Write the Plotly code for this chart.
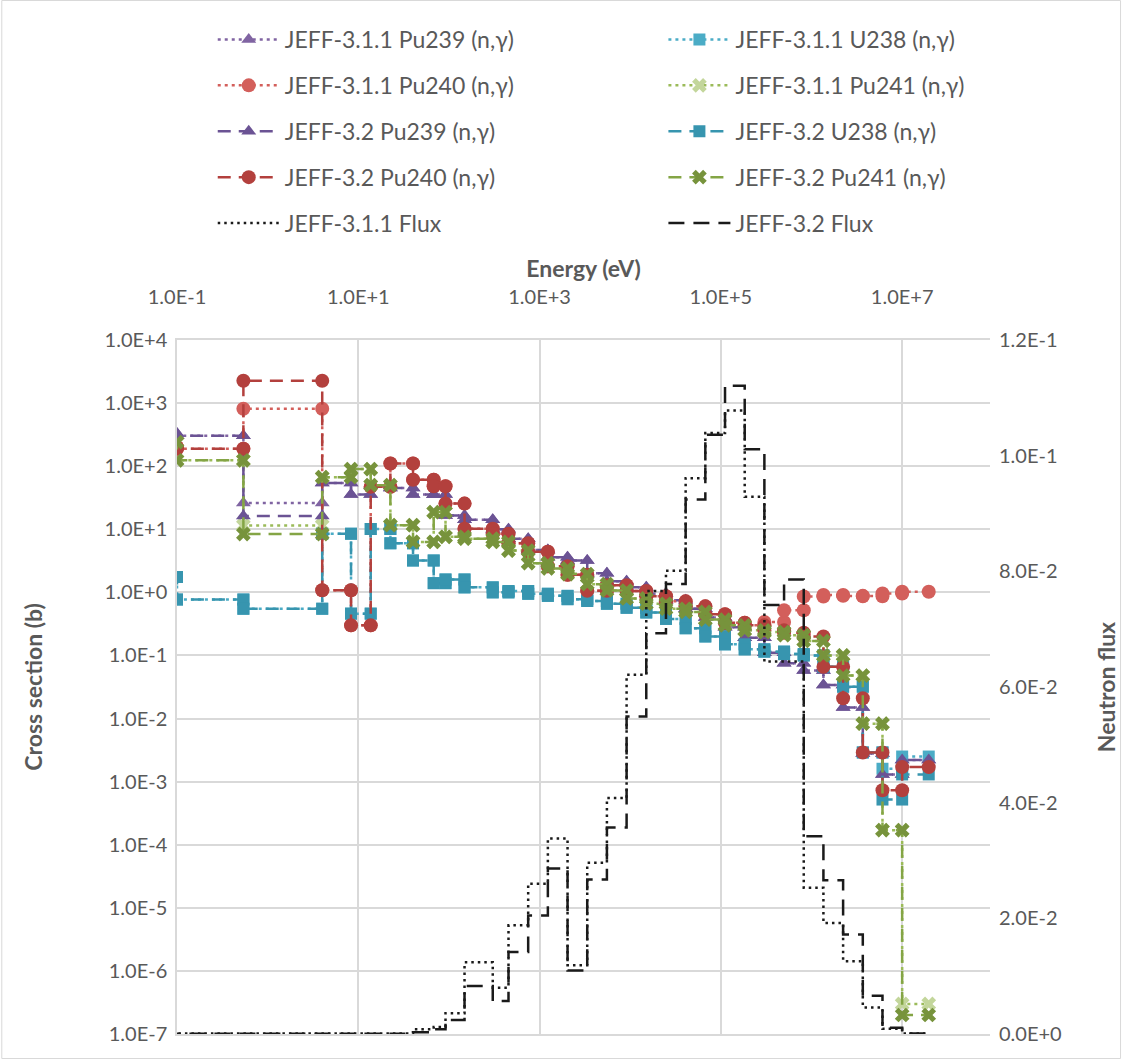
import plotly.graph_objects as go

# ECCO-33 group boundaries (eV), ascending
energy_bounds = [1e-5, 0.1, 0.54, 4.0, 8.315, 13.71, 22.6, 40.17, 67.9, 91.66, 148.6,
                 304.3, 454.0, 748.5, 1234.0, 2035.0, 3355.0, 5531.0, 9119.0, 15030.0,
                 24790.0, 40870.0, 67380.0, 111100.0, 183200.0, 302000.0, 497900.0,
                 820900.0, 1353000.0, 2231000.0, 3679000.0, 6065000.0, 1.0e7, 1.964e7]

# group-wise capture cross sections (b), group 0 = lowest energy
pu239_jeff311 = [330, 305, 26, 54, 35.7, 50, 45, 35.7, 35.7, 16.6, 14.2, 10, 7.1, 4.7, 3.6, 3.2,
                 2.0, 1.5, 1.2, 0.95, 0.75, 0.55, 0.4, 0.28, 0.19, 0.11, 0.075, 0.058, 0.034,
                 0.015, 0.0028, 0.0013, 0.0022]
pu239_jeff32 = [330, 305, 16.2, 54, 35.7, 50, 45, 35.7, 35.7, 16.6, 14.2, 10, 7.1, 4.7, 3.6, 3.2,
                2.0, 1.5, 1.2, 0.95, 0.75, 0.55, 0.4, 0.28, 0.19, 0.11, 0.075, 0.058, 0.034,
                0.015, 0.0028, 0.0013, 0.0022]
u238_jeff311 = [1.75, 0.77, 0.55, 8.5, 0.46, 10.1, 6.0, 3.2, 1.4, 1.6, 1.2, 1.0, 1.05, 0.95, 0.88,
                0.78, 0.73, 0.66, 0.57, 0.48, 0.38, 0.27, 0.2, 0.15, 0.125, 0.115, 0.105, 0.1,
                0.066, 0.032, 0.0029, 0.0016, 0.0025]
u238_jeff32 = [1.75, 0.77, 0.55, 8.5, 0.46, 10.1, 6.0, 3.2, 1.4, 1.6, 1.2, 1.0, 1.05, 0.95, 0.88,
               0.78, 0.73, 0.66, 0.57, 0.48, 0.38, 0.27, 0.2, 0.15, 0.125, 0.115, 0.105, 0.1,
               0.066, 0.032, 0.0029, 0.00052, 0.0013]
pu240_jeff311 = [200, 189, 815, 1.08, 0.30, 47, 110, 61, 48, 25.5, 10.2, 8.5, 6.0, 4.4, 2.6, 1.9,
                 1.06, 1.3, 1.05, 0.87, 0.72, 0.6, 0.45, 0.33, 0.30, 0.34, 0.52, 0.86, 0.91, 0.88,
                 0.87, 0.96, 1.02]
pu240_jeff32 = [200, 189, 2260, 1.08, 0.30, 47, 110, 61, 48, 25.5, 10.2, 8.5, 6.0, 4.4, 2.6, 1.9,
                1.06, 1.3, 1.05, 0.87, 0.72, 0.6, 0.45, 0.33, 0.30, 0.25, 0.23, 0.2, 0.066, 0.021,
                0.0029, 0.00073, 0.0017]
pu241_jeff311 = [240, 124, 11.5, 67, 90, 50, 11.6, 6.3, 18.7, 7.6, 7.1, 6.3, 4.6, 2.9, 2.4, 1.95,
                 1.35, 1.07, 0.8, 0.66, 0.55, 0.49, 0.37, 0.30, 0.25, 0.235, 0.21, 0.17, 0.10,
                 0.048, 0.0083, 0.00017, 3.0e-7]
pu241_jeff32 = [240, 124, 8.4, 67, 90, 50, 11.6, 6.3, 18.7, 7.6, 7.1, 6.3, 4.6, 2.9, 2.4, 1.95,
                1.35, 1.07, 0.8, 0.66, 0.55, 0.49, 0.37, 0.30, 0.25, 0.235, 0.21, 0.17, 0.10,
                0.048, 0.0083, 0.00017, 2.0e-7]

# group-wise neutron flux (right axis)
flux_jeff311 = [0.00003, 0.00003, 0.00003, 0.00003, 0.00003, 0.00003, 0.0001, 0.0008, 0.0012,
                0.0036, 0.0124, 0.0080, 0.0188, 0.0260, 0.0338, 0.0119, 0.0296, 0.0408, 0.0621,
                0.0766, 0.0801, 0.0961, 0.1039, 0.1078, 0.0929, 0.0644, 0.0644, 0.0253, 0.0192,
                0.0126, 0.0046, 0.0009, 0.0001]
flux_jeff32 = [0.00003, 0.00003, 0.00003, 0.00003, 0.00003, 0.00003, 0.00005, 0.0003, 0.0008,
               0.0024, 0.0083, 0.0057, 0.0142, 0.0205, 0.0286, 0.0110, 0.0267, 0.0357, 0.0549,
               0.0693, 0.0778, 0.0924, 0.1036, 0.1121, 0.1011, 0.0742, 0.0786, 0.0342, 0.0266,
               0.0172, 0.0066, 0.0011, 0.0001]

x_tick_vals = [0.1, 10, 1e3, 1e5, 1e7]
x_tick_text = ["1.0E-1", "1.0E+1", "1.0E+3", "1.0E+5", "1.0E+7"]
y_tick_vals = [1e-7, 1e-6, 1e-5, 1e-4, 1e-3, 1e-2, 1e-1, 1, 10, 100, 1e3, 1e4]
y_tick_text = ["1.0E-7", "1.0E-6", "1.0E-5", "1.0E-4", "1.0E-3", "1.0E-2", "1.0E-1",
               "1.0E+0", "1.0E+1", "1.0E+2", "1.0E+3", "1.0E+4"]
y2_tick_vals = [0, 0.02, 0.04, 0.06, 0.08, 0.10, 0.12]
y2_tick_text = ["0.0E+0", "2.0E-2", "4.0E-2", "6.0E-2", "8.0E-2", "1.0E-1", "1.2E-1"]


def steps(values):
    xs, ys = [], []
    for i, v in enumerate(values):
        xs += [energy_bounds[i], energy_bounds[i + 1]]
        ys += [v, v]
    return xs, ys


FONT = "Lato, 'Liberation Sans', Arial, sans-serif"
GREY = "#595959"
DOT = "3px,4px"
DASH = "13px,8px"

series = [
    # name, values, line color, marker color, symbol, size, dash, legend
    ("JEFF-3.1.1 Pu239 (n,γ)", pu239_jeff311, "#8064A2", "#8064A2", "triangle-up", 13, DOT, "legend"),
    ("JEFF-3.1.1 U238 (n,γ)", u238_jeff311, "#4BACC6", "#4BACC6", "square", 12, DOT, "legend2"),
    ("JEFF-3.1.1 Pu240 (n,γ)", pu240_jeff311, "#D35F5B", "#D35F5B", "circle", 14, DOT, "legend"),
    ("JEFF-3.1.1 Pu241 (n,γ)", pu241_jeff311, "#9BBB59", "#C3D69B", "x", 13, DOT, "legend2"),
    ("JEFF-3.2 Pu239 (n,γ)", pu239_jeff32, "#6B5394", "#6B5394", "triangle-up", 13, DASH, "legend"),
    ("JEFF-3.2 U238 (n,γ)", u238_jeff32, "#3795AF", "#3795AF", "square", 12, DASH, "legend2"),
    ("JEFF-3.2 Pu240 (n,γ)", pu240_jeff32, "#B3403D", "#B3403D", "circle", 14, DASH, "legend"),
    ("JEFF-3.2 Pu241 (n,γ)", pu241_jeff32, "#84A545", "#77933C", "x", 13, DASH, "legend2"),
]

fig = go.Figure()
for name, vals, lc, mc, sym, size, dash, leg in series:
    xs, ys = steps(vals)
    fig.add_trace(go.Scatter(
        x=xs, y=ys, name=name, mode="lines+markers", yaxis="y", legend=leg,
        legendgroup=name,
        line=dict(color=lc, width=2.5, dash=dash),
        marker=dict(color=mc, symbol=sym, size=size, line=dict(width=0)),
    ))

for name, vals, dash, leg in [("JEFF-3.1.1 Flux", flux_jeff311, "2.5px,4px", "legend"),
                              ("JEFF-3.2 Flux", flux_jeff32, "16px,9px", "legend2")]:
    xs, ys = steps(vals)
    fig.add_trace(go.Scatter(
        x=xs, y=ys, name=name, mode="lines", yaxis="y2", legend=leg, legendgroup=name,
        line=dict(color="#1A1A1A", width=2.5, dash=dash),
    ))

L, R, T, B = 177, 996, 340, 1034
W, H = 1128, 1059
pw, ph = R - L, B - T


def px_x(px):
    return (px - L) / pw


def px_y(py):
    return (B - py) / ph


legend_common = dict(
    font=dict(family=FONT, size=23, color=GREY),
    orientation="v", xanchor="left", yanchor="top",
    bgcolor="rgba(0,0,0,0)", itemwidth=62, tracegroupgap=13,
    traceorder="grouped",
)

fig.update_layout(
    width=W, height=H,
    margin=dict(l=L, r=W - R, t=T, b=H - B),
    paper_bgcolor="white", plot_bgcolor="white",
    font=dict(family=FONT, color=GREY, size=20),
    showlegend=True,
    legend=dict(x=px_x(213), y=px_y(18), **legend_common),
    legend2=dict(x=px_x(667), y=px_y(18), **legend_common),
    xaxis=dict(
        type="log", range=[-1, 7.969], side="top",
        tickvals=x_tick_vals, ticktext=x_tick_text,
        ticks="outside", ticklen=26, tickcolor="rgba(0,0,0,0)",
        tickfont=dict(family=FONT, size=20, color=GREY),
        showgrid=True, gridcolor="#D9D9D9", gridwidth=1.5,
        showline=True, linecolor="#D9D9D9", linewidth=1.5, mirror=True,
        zeroline=False,
        title=dict(text="<b>Energy (eV)</b>", font=dict(family=FONT, size=23, color=GREY),
                   standoff=0),
    ),
    yaxis=dict(
        type="log", range=[-7, 4],
        tickvals=y_tick_vals, ticktext=y_tick_text,
        ticks="outside", ticklen=4, tickcolor="rgba(0,0,0,0)",
        tickfont=dict(family=FONT, size=20, color=GREY),
        showgrid=True, gridcolor="#D9D9D9", gridwidth=1.5,
        showline=True, linecolor="#D9D9D9", linewidth=1.5,
        zeroline=False,
        title=dict(text="<b>Cross section (b)</b>", font=dict(family=FONT, size=23, color=GREY),
                   standoff=56),
    ),
    yaxis2=dict(
        overlaying="y", side="right", range=[0, 0.12],
        tickvals=y2_tick_vals, ticktext=y2_tick_text,
        ticks="outside", ticklen=4, tickcolor="rgba(0,0,0,0)",
        tickfont=dict(family=FONT, size=20, color=GREY),
        showgrid=False, zeroline=False, showline=False,
        title=dict(text="<b>Neutron flux</b>", font=dict(family=FONT, size=23, color=GREY),
                   standoff=38),
    ),
    shapes=[dict(type="rect", xref="paper", yref="paper",
                 x0=px_x(0.5), x1=px_x(W - 0.5), y0=px_y(H - 0.5), y1=px_y(0.5),
                 line=dict(color="#D9D9D9", width=1), layer="below")],
)

fig.write_html("out.html")
